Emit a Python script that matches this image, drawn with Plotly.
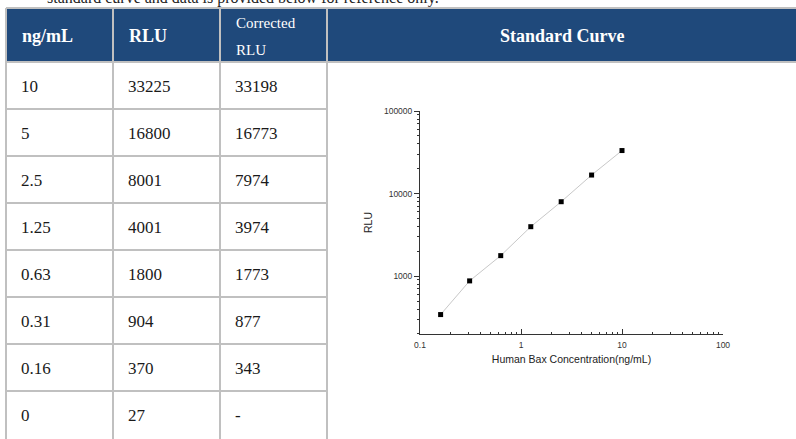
import plotly.graph_objects as go

W, H = 796, 439

# ---------------- data ----------------
conc_labels = ["10", "5", "2.5", "1.25", "0.63", "0.31", "0.16", "0"]
conc = [10, 5, 2.5, 1.25, 0.63, 0.31, 0.16, 0]
rlu = [33225, 16800, 8001, 4001, 1800, 904, 370, 27]
corrected_rlu = [33198, 16773, 7974, 3974, 1773, 877, 343, None]

header_labels = ["ng/mL", "RLU", "Corrected|RLU", "Standard Curve"]
x_tick_vals = [0.1, 1, 10, 100]
x_tick_text = ["0.1", "1", "10", "100"]
y_tick_vals = [1000, 10000, 100000]
y_tick_text = ["1000", "10000", "100000"]
top_note = "standard curve and data is provided below for reference only."
x_title = "Human Bax Concentration(ng/mL)"
y_title = "RLU"

# ---------------- layout geometry (pixels) ----------------
col_edges = [6, 113, 220, 327, W]
table_top, header_bottom, row_h = 8, 62, 47
HEADER_BLUE = "#1f497b"
GRID = "#c0c0c0"
SERIF = "Liberation Serif, Times New Roman, serif"
SANS = "Liberation Sans, Arial, sans-serif"


def fx(x):
    return x / W


def fy(y):
    return 1 - y / H


fig = go.Figure()

# ---------------- curve ----------------
pts = [(c, v) for c, v in zip(conc, corrected_rlu) if c > 0 and v is not None]
fig.add_trace(go.Scatter(
    x=[p[0] for p in pts], y=[p[1] for p in pts],
    mode="lines+markers",
    line=dict(color="#c8c8c8", width=1),
    marker=dict(symbol="square", size=5, color="#000000"),
    showlegend=False, hoverinfo="skip",
))

minor_x = [m * 10 ** e for e in (-1, 0, 1) for m in range(2, 10)]
minor_y = [m * 10 ** e for e in (2, 3, 4) for m in range(2, 10)]

fig.update_xaxes(
    type="log", range=[-1, 2], domain=[fx(420), fx(723)],
    tickvals=x_tick_vals, ticktext=x_tick_text,
    ticks="inside", ticklen=5, tickwidth=1, tickcolor="#333",
    minor=dict(tickvals=minor_x, ticks="inside", ticklen=2.5, tickcolor="#333", tickwidth=1),
    showline=True, linecolor="#333", linewidth=1, showgrid=False, zeroline=False,
    tickfont=dict(family=SANS, size=8.5, color="#333"), ticklabelstandoff=3,
    title=dict(text=x_title, font=dict(family=SANS, size=10.5, color="#222"), standoff=6),
    automargin=False, fixedrange=True,
)
fig.update_yaxes(
    type="log", range=[2.3, 5], domain=[fy(334), fy(111)],
    tickvals=y_tick_vals, ticktext=y_tick_text,
    ticks="outside", ticklen=5, tickwidth=1, tickcolor="#333",
    minor=dict(tickvals=minor_y, ticks="outside", ticklen=2.5, tickcolor="#333", tickwidth=1),
    showline=True, linecolor="#333", linewidth=1, showgrid=False, zeroline=False,
    tickfont=dict(family=SANS, size=8.5, color="#333"),
    title=dict(text=y_title, font=dict(family=SANS, size=10.5, color="#222"), standoff=9),
    automargin=False, fixedrange=True,
)

# ---------------- table ----------------
shapes = []
shapes.append(dict(type="rect", xref="paper", yref="paper",
                   x0=fx(col_edges[0]), x1=1,
                   y0=fy(header_bottom), y1=fy(table_top),
                   fillcolor=HEADER_BLUE, line=dict(width=0), layer="below"))
# horizontal lines
for yy in (table_top, header_bottom):
    shapes.append(dict(type="line", xref="paper", yref="paper",
                       x0=fx(col_edges[0]), x1=1, y0=fy(yy), y1=fy(yy),
                       line=dict(color=GRID, width=2)))
n_rows = len(conc_labels)
for i in range(1, n_rows):
    yy = header_bottom + row_h * i
    shapes.append(dict(type="line", xref="paper", yref="paper",
                       x0=fx(col_edges[0]), x1=fx(col_edges[3]), y0=fy(yy), y1=fy(yy),
                       line=dict(color=GRID, width=2)))
# vertical lines
for xx in col_edges[:4]:
    shapes.append(dict(type="line", xref="paper", yref="paper",
                       x0=fx(xx), x1=fx(xx), y0=fy(table_top), y1=0,
                       line=dict(color=GRID, width=2)))

annotations = []
# top note (mostly cut off at the top edge)
annotations.append(dict(text=top_note, xref="paper", yref="paper", x=fx(45), y=fy(9),
                        xanchor="left", yanchor="bottom", showarrow=False,
                        font=dict(family=SERIF, size=16, color="#222")))
# header texts
hdr_mid = (table_top + header_bottom) / 2 + 1
for c, lab in enumerate(header_labels):
    if c == 3:
        annotations.append(dict(text="<b>%s</b>" % lab, xref="paper", yref="paper",
                                x=fx(562), y=fy(hdr_mid), xanchor="center", yanchor="middle",
                                showarrow=False, font=dict(family=SERIF, size=18, color="white")))
    elif "|" in lab:
        parts = lab.split("|")
        for k, part in enumerate(parts):
            annotations.append(dict(text=part, xref="paper", yref="paper",
                                    x=fx(col_edges[c] + 14), y=fy(23 + 27 * k),
                                    xanchor="left", yanchor="middle", showarrow=False,
                                    font=dict(family=SERIF, size=15, color="white")))
    else:
        annotations.append(dict(text="<b>%s</b>" % lab, xref="paper", yref="paper",
                                x=fx(col_edges[c] + 14), y=fy(hdr_mid),
                                xanchor="left", yanchor="middle", showarrow=False,
                                font=dict(family=SERIF, size=18, color="white")))
# body texts
for i in range(n_rows):
    ymid = header_bottom + row_h * i + row_h / 2 + 1
    vals = [conc_labels[i], str(rlu[i]),
            "-" if corrected_rlu[i] is None else str(corrected_rlu[i])]
    for c, v in enumerate(vals):
        annotations.append(dict(text=v, xref="paper", yref="paper",
                                x=fx(col_edges[c] + 13), y=fy(ymid),
                                xanchor="left", yanchor="middle", showarrow=False,
                                font=dict(family=SERIF, size=17, color="#1a1a1a")))

fig.update_layout(
    width=W, height=H, autosize=False,
    margin=dict(l=0, r=0, t=0, b=0, pad=0, autoexpand=False),
    paper_bgcolor="white", plot_bgcolor="white",
    shapes=shapes, annotations=annotations,
    showlegend=False,
)

fig.write_html(
    "out.html",
    config={"displayModeBar": False},
    post_script="document.body.style.margin='0';document.body.style.overflow='hidden';",
)
